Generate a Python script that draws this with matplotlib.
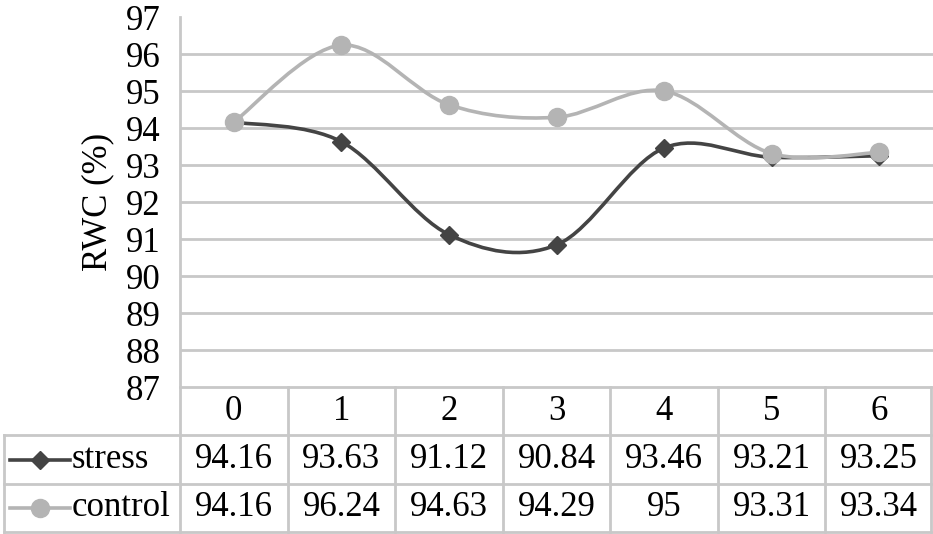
import numpy as np
import matplotlib.pyplot as plt
from matplotlib.path import Path
from matplotlib.patches import PathPatch
from matplotlib.lines import Line2D

plt.rcParams['font.family'] = ['Liberation Serif', 'DejaVu Serif']

days = [0, 1, 2, 3, 4, 5, 6]
stress = [94.16, 93.63, 91.12, 90.84, 93.46, 93.21, 93.25]
control = [94.16, 96.24, 94.63, 94.29, 95, 93.31, 93.34]
stress_txt = ['94.16', '93.63', '91.12', '90.84', '93.46', '93.21', '93.25']
control_txt = ['94.16', '96.24', '94.63', '94.29', '95', '93.31', '93.34']

W, H = 933, 534
c_stress = '#444444'
c_control = '#b4b4b4'
c_grid = '#c8c8c8'
fs = 25


def smooth_path(x, y):
    # excel-like smoothing: bezier with catmull-rom control points
    pts = np.column_stack([x, y]).astype(float)
    n = len(pts)
    verts = [pts[0]]
    codes = [Path.MOVETO]
    for i in range(n - 1):
        p0 = pts[max(i - 1, 0)]
        p1 = pts[i]
        p2 = pts[i + 1]
        p3 = pts[min(i + 2, n - 1)]
        verts += [p1 + (p2 - p0) / 6, p2 - (p3 - p1) / 6, p2]
        codes += [Path.CURVE4] * 3
    return Path(verts, codes)


fig = plt.figure(figsize=(W / 100, H / 100), dpi=100)

# pixel layout
left, right, top, bottom = 180, 933, 17, 387
ax = fig.add_axes([left / W, 1 - bottom / H, (right - left) / W, (bottom - top) / H])
ax.set_xlim(-0.5, 6.5)
ax.set_ylim(87, 97)
ax.set_yticks(range(87, 98))
ax.set_xticks([])
for s in ax.spines.values():
    s.set_visible(False)
for v in range(88, 97):
    ax.axhline(v, color=c_grid, lw=2, zorder=0)
ax.tick_params(axis='y', length=0, labelsize=fs, pad=14)
ax.set_ylabel('RWC (%)', fontsize=fs, labelpad=8)

for vals, col, mk, ms, lw in [(stress, c_stress, 'D', 9, 2.6), (control, c_control, 'o', 13, 2.6)]:
    ax.add_patch(PathPatch(smooth_path(days, vals), facecolor='none', edgecolor=col, lw=lw, zorder=2))
    ax.plot(days, vals, ls='none', marker=mk, ms=ms, color=col, zorder=3)

# data table drawn on a full-figure overlay in pixel coords
tb = fig.add_axes([0, 0, 1, 1])
tb.set_xlim(0, W)
tb.set_ylim(H, 0)
tb.axis('off')
colw = (right - left) / len(days)
rows = [387, 435, 484, 532]
kw = dict(color=c_grid, lw=2)
tb.plot([left, right - 2], [rows[0], rows[0]], **kw)
for yy in rows[1:]:
    tb.plot([4, right - 2], [yy, yy], **kw)
tb.plot([left, left], [top, rows[3]], **kw)
tb.plot([4, 4], [rows[1], rows[3]], **kw)
for i in range(1, len(days) + 1):
    xx = min(left + i * colw, right - 2)
    tb.plot([xx, xx], [rows[0], rows[3]], **kw)

for i, d in enumerate(days):
    cx = left + (i + 0.5) * colw
    tb.text(cx, (rows[0] + rows[1]) / 2, str(d), ha='center', va='center', fontsize=fs)
    tb.text(cx, (rows[1] + rows[2]) / 2, stress_txt[i], ha='center', va='center', fontsize=fs)
    tb.text(cx, (rows[2] + rows[3]) / 2, control_txt[i], ha='center', va='center', fontsize=fs)

for r, name, col, mk, ms in [(1, 'stress', c_stress, 'D', 9), (2, 'control', c_control, 'o', 13)]:
    yy = (rows[r] + rows[r + 1]) / 2
    tb.add_line(Line2D([10, 70], [yy, yy], color=col, lw=2.6))
    tb.plot([40], [yy], marker=mk, ms=ms, color=col)
    tb.text(72, yy, name, ha='left', va='center', fontsize=fs)

fig.savefig('out.png', dpi=100)
